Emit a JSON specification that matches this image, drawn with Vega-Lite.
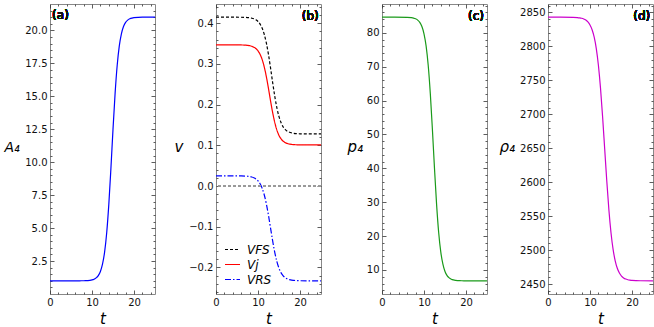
{
  "$schema": "https://vega.github.io/schema/vega-lite/v6.json",
  "autosize": {"type": "pad"},
  "padding": {"left": 3, "top": 3, "right": 0, "bottom": 0},
  "spacing": 61,
  "bounds": "flush",
  "resolve": {"legend": {"color": "independent", "strokeDash": "independent"}},
  "datasets": {
    "d": [
      {"t": 0, "A4": 1.0, "VFS": 0.415, "Vj": 0.347, "VRS": 0.025, "p4": 84.6, "rho4": 2843.0},
      {"t": 3, "A4": 1.0, "VFS": 0.415, "Vj": 0.347, "VRS": 0.025, "p4": 84.6, "rho4": 2843.0},
      {"t": 6, "A4": 1.0006, "VFS": 0.4148, "Vj": 0.3467, "VRS": 0.0248, "p4": 84.557, "rho4": 2842.8},
      {"t": 7, "A4": 1.0018, "VFS": 0.4144, "Vj": 0.3462, "VRS": 0.0244, "p4": 84.458, "rho4": 2842.4},
      {"t": 7.5, "A4": 1.0033, "VFS": 0.4141, "Vj": 0.3457, "VRS": 0.024, "p4": 84.34, "rho4": 2842.0},
      {"t": 8, "A4": 1.006, "VFS": 0.4135, "Vj": 0.3449, "VRS": 0.0233, "p4": 84.125, "rho4": 2841.4},
      {"t": 8.5, "A4": 1.011, "VFS": 0.4125, "Vj": 0.3435, "VRS": 0.0222, "p4": 83.744, "rho4": 2840.4},
      {"t": 9, "A4": 1.02, "VFS": 0.411, "Vj": 0.3413, "VRS": 0.0204, "p4": 83.06, "rho4": 2838.7},
      {"t": 9.5, "A4": 1.037, "VFS": 0.4084, "Vj": 0.3378, "VRS": 0.0174, "p4": 81.83, "rho4": 2836.0},
      {"t": 10, "A4": 1.067, "VFS": 0.4043, "Vj": 0.3322, "VRS": 0.0128, "p4": 79.699, "rho4": 2831.6},
      {"t": 10.5, "A4": 1.122, "VFS": 0.3978, "Vj": 0.3236, "VRS": 0.0054, "p4": 76.112, "rho4": 2824.6},
      {"t": 11, "A4": 1.22, "VFS": 0.3876, "Vj": 0.3106, "VRS": -0.0058, "p4": 70.409, "rho4": 2813.6},
      {"t": 11.5, "A4": 1.396, "VFS": 0.3725, "Vj": 0.2922, "VRS": -0.0221, "p4": 62.108, "rho4": 2796.8},
      {"t": 12, "A4": 1.712, "VFS": 0.3511, "Vj": 0.2681, "VRS": -0.0444, "p4": 51.489, "rho4": 2772.2},
      {"t": 12.5, "A4": 2.26, "VFS": 0.3229, "Vj": 0.2393, "VRS": -0.0724, "p4": 39.911, "rho4": 2738.7},
      {"t": 13, "A4": 3.182, "VFS": 0.2894, "Vj": 0.2087, "VRS": -0.104, "p4": 29.292, "rho4": 2696.5},
      {"t": 13.5, "A4": 4.648, "VFS": 0.2537, "Vj": 0.1799, "VRS": -0.1356, "p4": 20.991, "rho4": 2649.0},
      {"t": 14, "A4": 6.782, "VFS": 0.2201, "Vj": 0.1558, "VRS": -0.1636, "p4": 15.288, "rho4": 2601.5},
      {"t": 14.5, "A4": 9.512, "VFS": 0.1919, "Vj": 0.1374, "VRS": -0.1859, "p4": 11.701, "rho4": 2559.3},
      {"t": 15, "A4": 12.488, "VFS": 0.1705, "Vj": 0.1244, "VRS": -0.2022, "p4": 9.57, "rho4": 2525.8},
      {"t": 15.5, "A4": 15.218, "VFS": 0.1554, "Vj": 0.1158, "VRS": -0.2134, "p4": 8.34, "rho4": 2501.2},
      {"t": 16, "A4": 17.352, "VFS": 0.1452, "Vj": 0.1102, "VRS": -0.2208, "p4": 7.656, "rho4": 2484.4},
      {"t": 16.5, "A4": 18.818, "VFS": 0.1387, "Vj": 0.1067, "VRS": -0.2254, "p4": 7.275, "rho4": 2473.4},
      {"t": 17, "A4": 19.74, "VFS": 0.1346, "Vj": 0.1045, "VRS": -0.2284, "p4": 7.06, "rho4": 2466.4},
      {"t": 17.5, "A4": 20.288, "VFS": 0.1321, "Vj": 0.1031, "VRS": -0.2302, "p4": 6.942, "rho4": 2462.0},
      {"t": 18, "A4": 20.604, "VFS": 0.1305, "Vj": 0.1023, "VRS": -0.2313, "p4": 6.879, "rho4": 2459.3},
      {"t": 18.5, "A4": 20.78, "VFS": 0.1295, "Vj": 0.1018, "VRS": -0.2319, "p4": 6.843, "rho4": 2457.6},
      {"t": 19, "A4": 20.878, "VFS": 0.1289, "Vj": 0.1015, "VRS": -0.2324, "p4": 6.823, "rho4": 2456.6},
      {"t": 19.5, "A4": 20.933, "VFS": 0.1286, "Vj": 0.1013, "VRS": -0.2326, "p4": 6.812, "rho4": 2456.0},
      {"t": 20, "A4": 20.963, "VFS": 0.1283, "Vj": 0.1012, "VRS": -0.2328, "p4": 6.806, "rho4": 2455.6},
      {"t": 22, "A4": 20.997, "VFS": 0.128, "Vj": 0.101, "VRS": -0.233, "p4": 6.801, "rho4": 2455.1},
      {"t": 25, "A4": 21.0, "VFS": 0.128, "Vj": 0.101, "VRS": -0.233, "p4": 6.8, "rho4": 2455.0}
    ]
  },
  "hconcat": [
    {
      "width": 105, "height": 290,
      "data": {"name": "d"},
      "layer": [
        {
          "mark": {"type": "line", "color": "#0000ff", "strokeWidth": 1.2, "interpolate": "monotone"},
          "encoding": {
            "x": {"field": "t", "type": "quantitative", "scale": {"domain": [0, 25], "nice": false, "zero": false},
              "axis": {"orient": "bottom", "values": [0,2,4,6,8,10,12,14,16,18,20,22,24], "labelExpr": "datum.value % 10 === 0 ? datum.label : ''",
                "tickSize": {"condition": {"test": "datum.value % 10 === 0", "value": -4}, "value": -2},
                "title": "t", "titleFontSize": 15, "titleY": 29, "titleBaseline": "alphabetic"}},
            "y": {"field": "A4", "type": "quantitative", "scale": {"domain": [0, 22], "nice": false, "zero": false},
              "axis": {"orient": "left", "values": [0.5,1,1.5,2,2.5,3,3.5,4,4.5,5,5.5,6,6.5,7,7.5,8,8.5,9,9.5,10,10.5,11,11.5,12,12.5,13,13.5,14,14.5,15,15.5,16,16.5,17,17.5,18,18.5,19,19.5,20,20.5,21,21.5],
                "format": ".1f", "labelExpr": "datum.value % 2.5 === 0 ? datum.label : ''",
                "tickSize": {"condition": {"test": "datum.value % 2.5 === 0", "value": -4}, "value": -2},
                "title": "A₄", "titleFontSize": 14, "titleAngle": 0, "titleAlign": "left", "titleX": -46, "titleY": 147, "titleBaseline": "alphabetic"}}
          }
        },
        {
          "mark": {"type": "text", "align": "left", "baseline": "middle", "fontSize": 12, "fontWeight": "normal", "font": "DejaVu Sans", "color": "#111111"},
          "encoding": {
            "x": {"datum": 0.5, "type": "quantitative",
              "axis": {"orient": "top", "values": [0,2,4,6,8,10,12,14,16,18,20,22,24], "labels": false, "title": null,
                "tickSize": {"condition": {"test": "datum.value % 10 === 0", "value": -4}, "value": -2}}},
            "y": {"datum": 21.2, "type": "quantitative",
              "axis": {"orient": "right", "values": [0.5,1,1.5,2,2.5,3,3.5,4,4.5,5,5.5,6,6.5,7,7.5,8,8.5,9,9.5,10,10.5,11,11.5,12,12.5,13,13.5,14,14.5,15,15.5,16,16.5,17,17.5,18,18.5,19,19.5,20,20.5,21,21.5], "labels": false, "title": null,
                "tickSize": {"condition": {"test": "datum.value % 2.5 === 0", "value": -4}, "value": -2}}},
            "text": {"value": "(a)"}
          }
        }
      ],
      "resolve": {"axis": {"x": "independent", "y": "independent"}}
    },
    {
      "width": 105, "height": 290,
      "data": {"name": "d"},
      "layer": [
        {
          "transform": [{"fold": ["VFS", "Vj", "VRS"], "as": ["series", "v"]}],
          "mark": {"type": "line", "strokeWidth": 1.2, "interpolate": "monotone"},
          "encoding": {
            "x": {"field": "t", "type": "quantitative", "scale": {"domain": [0, 25], "nice": false, "zero": false},
              "axis": {"orient": "bottom", "values": [0,2,4,6,8,10,12,14,16,18,20,22,24], "labelExpr": "datum.value % 10 === 0 ? datum.label : ''",
                "tickSize": {"condition": {"test": "datum.value % 10 === 0", "value": -4}, "value": -2},
                "title": "t", "titleFontSize": 15, "titleY": 29, "titleBaseline": "alphabetic"}},
            "y": {"field": "v", "type": "quantitative", "scale": {"domain": [-0.2654, 0.4474], "nice": false, "zero": false},
              "axis": {"orient": "left", "values": [-0.26,-0.24,-0.22,-0.2,-0.18,-0.16,-0.14,-0.12,-0.1,-0.08,-0.06,-0.04,-0.02,0,0.02,0.04,0.06,0.08,0.1,0.12,0.14,0.16,0.18,0.2,0.22,0.24,0.26,0.28,0.3,0.32,0.34,0.36,0.38,0.4,0.42,0.44],
                "format": ".1f", "labelExpr": "abs(datum.value*10 - round(datum.value*10)) < 0.001 ? datum.label : ''",
                "tickSize": {"condition": {"test": "abs(datum.value*10 - round(datum.value*10)) < 0.001", "value": -4}, "value": -2},
                "title": "v", "titleFontSize": 15, "titleAngle": 0, "titleAlign": "left", "titleX": -42, "titleY": 147, "titleBaseline": "alphabetic"}},
            "color": {"field": "series", "type": "nominal", "scale": {"domain": ["VFS", "Vj", "VRS"], "range": ["#000000", "#ff0000", "#0000ff"]},
              "legend": {"title": null, "orient": "bottom-left", "offset": 8, "padding": 0, "symbolType": "stroke", "symbolSize": 225, "symbolStrokeWidth": 1.2, "rowPadding": 0, "labelFontSize": 12, "labelFontStyle": "italic", "labelFont": "DejaVu Sans", "labelOffset": 6, "labelColor": "#000"}},
            "strokeDash": {"field": "series", "type": "nominal", "scale": {"domain": ["VFS", "Vj", "VRS"], "range": [[3, 2], [1, 0], [6, 2, 1.5, 2]]},
              "legend": {"title": null, "orient": "bottom-left", "offset": 8, "padding": 0, "symbolType": "stroke", "symbolSize": 225, "symbolStrokeWidth": 1.2, "rowPadding": 0, "labelFontSize": 12, "labelFontStyle": "italic", "labelFont": "DejaVu Sans", "labelOffset": 6, "labelColor": "#000"}}
          }
        },
        {
          "mark": {"type": "rule", "color": "#999999", "strokeWidth": 0.8, "strokeDash": [3, 2]},
          "encoding": {"y": {"datum": 0, "type": "quantitative", "axis": null}}
        },
        {
          "mark": {"type": "text", "align": "right", "baseline": "middle", "fontSize": 12, "fontWeight": "normal", "font": "DejaVu Sans", "color": "#111111"},
          "encoding": {
            "x": {"datum": 24.45, "type": "quantitative",
              "axis": {"orient": "top", "values": [0,2,4,6,8,10,12,14,16,18,20,22,24], "labels": false, "title": null,
                "tickSize": {"condition": {"test": "datum.value % 10 === 0", "value": -4}, "value": -2}}},
            "y": {"datum": 0.418, "type": "quantitative",
              "axis": {"orient": "right", "values": [-0.26,-0.24,-0.22,-0.2,-0.18,-0.16,-0.14,-0.12,-0.1,-0.08,-0.06,-0.04,-0.02,0,0.02,0.04,0.06,0.08,0.1,0.12,0.14,0.16,0.18,0.2,0.22,0.24,0.26,0.28,0.3,0.32,0.34,0.36,0.38,0.4,0.42,0.44], "labels": false, "title": null,
                "tickSize": {"condition": {"test": "abs(datum.value*10 - round(datum.value*10)) < 0.001", "value": -4}, "value": -2}}},
            "text": {"value": "(b)"}
          }
        }
      ],
      "resolve": {"axis": {"x": "independent", "y": "independent"}}
    },
    {
      "width": 105, "height": 290,
      "data": {"name": "d"},
      "layer": [
        {
          "mark": {"type": "line", "color": "#1a9a1a", "strokeWidth": 1.2, "interpolate": "monotone"},
          "encoding": {
            "x": {"field": "t", "type": "quantitative", "scale": {"domain": [0, 25], "nice": false, "zero": false},
              "axis": {"orient": "bottom", "values": [0,2,4,6,8,10,12,14,16,18,20,22,24], "labelExpr": "datum.value % 10 === 0 ? datum.label : ''",
                "tickSize": {"condition": {"test": "datum.value % 10 === 0", "value": -4}, "value": -2},
                "title": "t", "titleFontSize": 15, "titleY": 29, "titleBaseline": "alphabetic"}},
            "y": {"field": "p4", "type": "quantitative", "scale": {"domain": [2.91, 88.49], "nice": false, "zero": false},
              "axis": {"orient": "left", "values": [4,6,8,10,12,14,16,18,20,22,24,26,28,30,32,34,36,38,40,42,44,46,48,50,52,54,56,58,60,62,64,66,68,70,72,74,76,78,80,82,84,86,88],
                "labelExpr": "datum.value % 10 === 0 ? datum.label : ''",
                "tickSize": {"condition": {"test": "datum.value % 10 === 0", "value": -4}, "value": -2},
                "title": "p₄", "titleFontSize": 15, "titleAngle": 0, "titleAlign": "left", "titleX": -35, "titleY": 147, "titleBaseline": "alphabetic"}}
          }
        },
        {
          "mark": {"type": "text", "align": "right", "baseline": "middle", "fontSize": 12, "fontWeight": "normal", "font": "DejaVu Sans", "color": "#111111"},
          "encoding": {
            "x": {"datum": 24.3, "type": "quantitative",
              "axis": {"orient": "top", "values": [0,2,4,6,8,10,12,14,16,18,20,22,24], "labels": false, "title": null,
                "tickSize": {"condition": {"test": "datum.value % 10 === 0", "value": -4}, "value": -2}}},
            "y": {"datum": 84.9, "type": "quantitative",
              "axis": {"orient": "right", "values": [4,6,8,10,12,14,16,18,20,22,24,26,28,30,32,34,36,38,40,42,44,46,48,50,52,54,56,58,60,62,64,66,68,70,72,74,76,78,80,82,84,86,88], "labels": false, "title": null,
                "tickSize": {"condition": {"test": "datum.value % 10 === 0", "value": -4}, "value": -2}}},
            "text": {"value": "(c)"}
          }
        }
      ],
      "resolve": {"axis": {"x": "independent", "y": "independent"}}
    },
    {
      "width": 105, "height": 290,
      "data": {"name": "d"},
      "layer": [
        {
          "mark": {"type": "line", "color": "#cc00cc", "strokeWidth": 1.2, "interpolate": "monotone"},
          "encoding": {
            "x": {"field": "t", "type": "quantitative", "scale": {"domain": [0, 25], "nice": false, "zero": false},
              "axis": {"orient": "bottom", "values": [0,2,4,6,8,10,12,14,16,18,20,22,24], "labelExpr": "datum.value % 10 === 0 ? datum.label : ''",
                "tickSize": {"condition": {"test": "datum.value % 10 === 0", "value": -4}, "value": -2},
                "title": "t", "titleFontSize": 15, "titleY": 29, "titleBaseline": "alphabetic"}},
            "y": {"field": "rho4", "type": "quantitative", "scale": {"domain": [2435.6, 2862.4], "nice": false, "zero": false},
              "axis": {"orient": "left", "values": [2440,2450,2460,2470,2480,2490,2500,2510,2520,2530,2540,2550,2560,2570,2580,2590,2600,2610,2620,2630,2640,2650,2660,2670,2680,2690,2700,2710,2720,2730,2740,2750,2760,2770,2780,2790,2800,2810,2820,2830,2840,2850,2860],
                "format": "d", "labelExpr": "datum.value % 50 === 0 ? datum.label : ''",
                "tickSize": {"condition": {"test": "datum.value % 50 === 0", "value": -4}, "value": -2},
                "title": "ρ₄", "titleFontSize": 15, "titleAngle": 0, "titleAlign": "left", "titleX": -49, "titleY": 147, "titleBaseline": "alphabetic"}}
          }
        },
        {
          "mark": {"type": "text", "align": "right", "baseline": "middle", "fontSize": 12, "fontWeight": "normal", "font": "DejaVu Sans", "color": "#111111"},
          "encoding": {
            "x": {"datum": 24.35, "type": "quantitative",
              "axis": {"orient": "top", "values": [0,2,4,6,8,10,12,14,16,18,20,22,24], "labels": false, "title": null,
                "tickSize": {"condition": {"test": "datum.value % 10 === 0", "value": -4}, "value": -2}}},
            "y": {"datum": 2844.6, "type": "quantitative",
              "axis": {"orient": "right", "values": [2440,2450,2460,2470,2480,2490,2500,2510,2520,2530,2540,2550,2560,2570,2580,2590,2600,2610,2620,2630,2640,2650,2660,2670,2680,2690,2700,2710,2720,2730,2740,2750,2760,2770,2780,2790,2800,2810,2820,2830,2840,2850,2860], "labels": false, "title": null,
                "tickSize": {"condition": {"test": "datum.value % 50 === 0", "value": -4}, "value": -2}}},
            "text": {"value": "(d)"}
          }
        }
      ],
      "resolve": {"axis": {"x": "independent", "y": "independent"}}
    }
  ],
  "config": {
    "view": {"stroke": "#888888", "strokeWidth": 1},
    "axis": {
      "domain": false, "grid": false,
      "labelFont": "DejaVu Sans", "labelFontSize": 10, "labelColor": "#111111", "labelPadding": 7, "labelFlush": false,
      "tickColor": "#333333", "tickWidth": 0.8,
      "titleFont": "DejaVu Sans", "titleFontStyle": "italic", "titleFontWeight": "normal", "titleColor": "#000000"
    }
  }
}
